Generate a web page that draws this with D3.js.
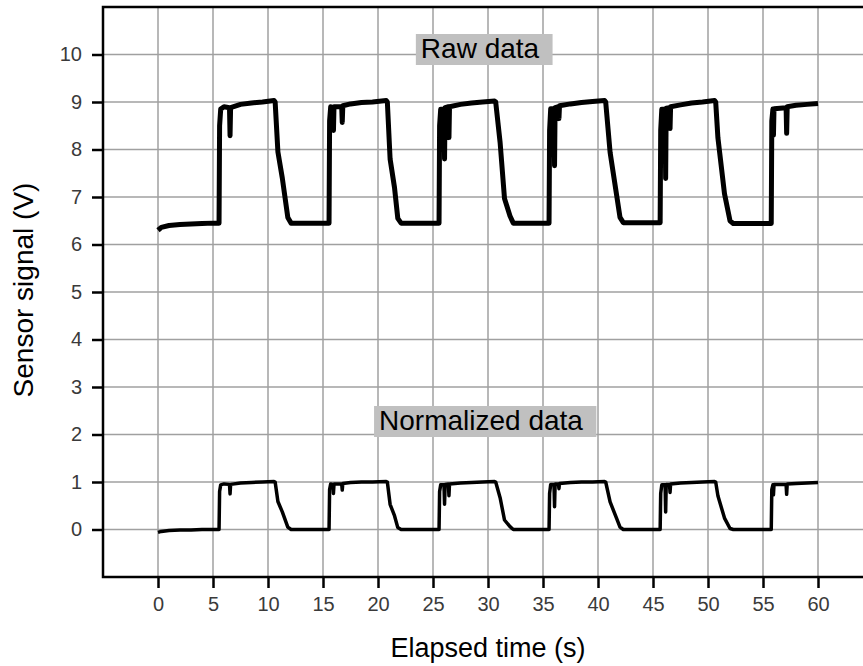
<!DOCTYPE html>
<html lang="en">
<head>
    <meta charset="UTF-8">
    <title>Sensor signal</title>
    <style>
        body { margin: 0; background: #fff; }
        text { font-family: Arial, "Liberation Sans", sans-serif; }
    </style>
</head>
<script src="https://cdn.jsdelivr.net/npm/d3@7"></script>
<body>
    <svg width="863" height="666"></svg>
</body>

<script>
    // time (s), shared by both traces
    var time = [
        0, 0.3, 1, 2, 3, 4, 5, 5.5,
        5.55, 5.6, 5.7, 6.0, 6.5, 6.55, 6.6, 7.5, 8.5, 9.5, 10.55,
        10.65, 10.9, 11.3, 11.8, 12.1, 15.5,
        15.55, 15.6, 15.7, 15.9, 15.95, 16.0, 16.7, 16.75, 16.8, 17.5, 18.5, 19.5, 20.75,
        20.85, 21.1, 21.5, 21.8, 22.1, 25.5,
        25.55, 25.6, 25.7, 26.0, 26.05, 26.1, 26.4, 26.45, 26.5, 27.5, 28.5, 29.5, 30.6,
        30.7, 31.1, 31.5, 32.0, 32.3, 35.5,
        35.55, 35.6, 35.7, 36.0, 36.05, 36.1, 36.4, 36.45, 36.5, 37.5, 38.5, 39.5, 40.6,
        40.7, 41.1, 41.7, 42.0, 42.3, 45.6,
        45.65, 45.7, 45.8, 46.1, 46.15, 46.2, 46.5, 46.55, 46.6, 47.5, 48.5, 49.5, 50.6,
        50.7, 50.9, 51.5, 52.0, 52.3, 55.7,
        55.75, 55.8, 55.9, 55.95, 56.0, 57.1, 57.15, 57.2, 58, 59, 60
    ];
    // raw sensor signal (V)
    var raw = [
        6.30, 6.36, 6.40, 6.42, 6.43, 6.44, 6.45, 6.45,
        6.45, 8.5, 8.85, 8.9, 8.88, 8.29, 8.88, 8.95, 8.98, 9.0, 9.03,
        9.0, 7.95, 7.4, 6.57, 6.45, 6.45,
        6.45, 8.6, 8.9, 8.88, 8.4, 8.9, 8.9, 8.57, 8.92, 8.96, 8.99, 9.0, 9.03,
        9.0, 7.8, 7.2, 6.55, 6.45, 6.45,
        6.45, 8.5, 8.85, 8.85, 7.8, 8.88, 8.9, 8.25, 8.9, 8.95, 8.98, 9.0, 9.02,
        9.0, 8.15, 6.97, 6.6, 6.45, 6.45,
        6.45, 8.4, 8.86, 8.86, 7.66, 8.88, 8.9, 8.65, 8.92, 8.96, 8.99, 9.01, 9.03,
        9.0, 7.94, 7.03, 6.57, 6.46, 6.46,
        6.46, 8.4, 8.85, 8.85, 7.39, 8.87, 8.88, 8.44, 8.9, 8.94, 8.98, 9.0, 9.03,
        9.0, 8.25, 7.07, 6.5, 6.44, 6.44,
        6.44, 8.6, 8.85, 8.3, 8.86, 8.88, 8.34, 8.9, 8.93, 8.95, 8.97
    ];
    // normalized signal
    var norm = [
        -0.06, -0.04, -0.02, -0.01, -0.01, 0, 0, 0,
        0, 0.8, 0.94, 0.96, 0.95, 0.75, 0.95, 0.98, 0.99, 1.0, 1.01,
        1.0, 0.59, 0.37, 0.05, 0, 0,
        0, 0.84, 0.96, 0.95, 0.76, 0.96, 0.96, 0.83, 0.97, 0.99, 1.0, 1.0, 1.01,
        1.0, 0.53, 0.29, 0.04, 0, 0,
        0, 0.8, 0.94, 0.94, 0.53, 0.95, 0.96, 0.71, 0.96, 0.98, 0.99, 1.0, 1.01,
        1.0, 0.67, 0.2, 0.06, 0, 0,
        0, 0.76, 0.95, 0.95, 0.48, 0.96, 0.96, 0.86, 0.97, 0.99, 1.0, 1.0, 1.01,
        1.0, 0.58, 0.23, 0.05, 0, 0,
        0, 0.76, 0.94, 0.94, 0.37, 0.95, 0.95, 0.78, 0.96, 0.98, 0.99, 1.0, 1.01,
        1.0, 0.71, 0.24, 0.02, 0, 0,
        0, 0.84, 0.94, 0.73, 0.95, 0.95, 0.74, 0.96, 0.97, 0.98, 0.99
    ];
    var xTicks = d3.range(0, 61, 5);
    var yTicks = d3.range(0, 11, 1);

    var svg = d3.select("svg");
    var mLeft = 103, mTop = 7, mBottom = 577, mRight = 873;

    var x = d3.scaleLinear().domain([-5, 65]).range([mLeft, mRight]);
    var y = d3.scaleLinear().domain([-1, 11]).range([mBottom, mTop]);

    // grid
    svg.append("g").selectAll("line").data(xTicks).join("line")
        .attr("x1", d => x(d)).attr("x2", d => x(d))
        .attr("y1", mTop).attr("y2", mBottom)
        .attr("stroke", "#a0a0a0").attr("stroke-width", 1.5);
    svg.append("g").selectAll("line").data(yTicks).join("line")
        .attr("x1", mLeft).attr("x2", mRight)
        .attr("y1", d => y(d)).attr("y2", d => y(d))
        .attr("stroke", "#a0a0a0").attr("stroke-width", 1.5);

    // axes
    var xAxis = svg.append("g")
        .attr("transform", "translate(0," + mBottom + ")")
        .call(d3.axisBottom(x).tickValues(xTicks).tickSize(11).tickPadding(9));
    var yAxis = svg.append("g")
        .attr("transform", "translate(" + mLeft + ",0)")
        .call(d3.axisLeft(y).tickValues(yTicks).tickSize(11).tickPadding(10));
    [xAxis, yAxis].forEach(function(a) {
        a.select(".domain").remove();
        a.selectAll(".tick line").attr("stroke", "#000").attr("stroke-width", 2.5);
        a.selectAll(".tick text").attr("font-size", 20).attr("fill", "#3a3a3a")
            .attr("font-family", "Arial, 'Liberation Sans', sans-serif");
    });

    // frame (right side runs off the page)
    svg.append("rect")
        .attr("x", mLeft).attr("y", mTop)
        .attr("width", mRight - mLeft).attr("height", mBottom - mTop)
        .attr("fill", "none").attr("stroke", "#000").attr("stroke-width", 2.5);

    var line = d3.line().x(d => x(d[0])).y(d => y(d[1]));
    svg.append("path")
        .datum(time.map((t, i) => [t, raw[i]]))
        .attr("d", line)
        .attr("fill", "none").attr("stroke", "#000")
        .attr("stroke-width", 5).attr("stroke-linejoin", "round");
    svg.append("path")
        .datum(time.map((t, i) => [t, norm[i]]))
        .attr("d", line)
        .attr("fill", "none").attr("stroke", "#000")
        .attr("stroke-width", 3.5).attr("stroke-linejoin", "round");

    // labels with grey boxes
    function boxLabel(txt, cx, baseline) {
        var g = svg.append("g");
        var t = g.append("text")
            .attr("x", cx).attr("y", baseline)
            .attr("text-anchor", "middle")
            .attr("font-size", 28).attr("fill", "#000")
            .text(txt);
        var b = t.node().getBBox();
        g.insert("rect", "text")
            .attr("x", b.x - 5).attr("y", baseline - 24)
            .attr("width", b.width + 18).attr("height", 31)
            .attr("fill", "#c0c0c0");
    }
    boxLabel("Raw data", 480, 58);
    boxLabel("Normalized data", 481, 430);

    svg.append("text")
        .attr("x", x(30)).attr("y", 657)
        .attr("text-anchor", "middle").attr("font-size", 27)
        .text("Elapsed time (s)");
    svg.append("text")
        .attr("transform", "translate(33,290) rotate(-90)")
        .attr("text-anchor", "middle").attr("font-size", 28)
        .text("Sensor signal (V)");
</script>
</html>
